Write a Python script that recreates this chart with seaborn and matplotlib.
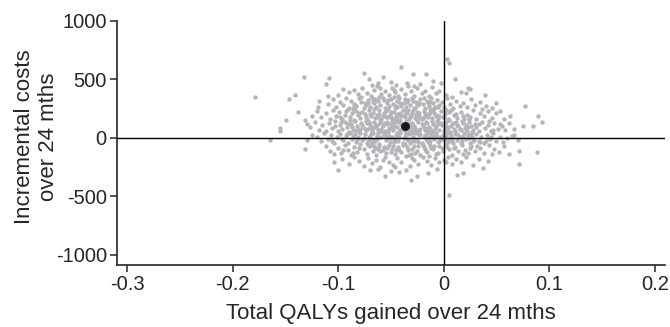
import pandas as pd
import seaborn as sns
import matplotlib.pyplot as plt

# Bootstrapped (QALY, cost) pairs, grouped by cost band
band_above_450 = [
    (-0.076, 557), (-0.071, 500), (-0.040, 609), (-0.029, 543), (-0.017, 543),
    (-0.010, 486), (-0.062, 470), (-0.050, 482), (-0.045, 455), (-0.035, 470),
    (-0.022, 462), (-0.058, 520), (0.011, 506), (-0.003, 470), (-0.068, 455),
    (0.003, 677), (0.005, 637), (-0.109, 514), (-0.112, 463), (-0.132, 520),
]
band_350_450 = [
    (-0.141, 363), (-0.147, 334), (-0.179, 351), (-0.110, 357),
    (-0.095, 420), (-0.090, 395), (-0.085, 410), (-0.081, 372), (-0.077, 430),
    (-0.073, 388), (-0.069, 360), (-0.066, 412), (-0.063, 445), (-0.059, 378),
    (-0.056, 402), (-0.052, 365), (-0.049, 430), (-0.046, 390), (-0.043, 356),
    (-0.040, 418), (-0.037, 375), (-0.034, 440), (-0.031, 398), (-0.028, 362),
    (-0.025, 425), (-0.021, 385), (-0.018, 405), (-0.014, 360), (-0.011, 432),
    (-0.007, 380), (-0.004, 400), (0.002, 368), (0.008, 352), (0.016, 395),
    (0.021, 380), (0.023, 429), (0.025, 414), (0.039, 366), (-0.100, 368),
    (-0.060, 428), (-0.047, 412), (-0.028, 447),
]
band_250_350 = [
    (-0.118, 314), (-0.119, 266), (-0.110, 290), (-0.105, 335), (-0.102, 262),
    (-0.098, 305), (-0.095, 280), (-0.093, 340), (-0.090, 258), (-0.088, 318),
    (-0.085, 292), (-0.083, 270), (-0.080, 338), (-0.078, 305), (-0.076, 255),
    (-0.074, 285), (-0.072, 322), (-0.070, 268), (-0.068, 345), (-0.066, 298),
    (-0.064, 262), (-0.062, 315), (-0.060, 282), (-0.058, 340), (-0.056, 255),
    (-0.054, 300), (-0.052, 275), (-0.050, 330), (-0.048, 290), (-0.046, 258),
    (-0.044, 318), (-0.042, 340), (-0.040, 272), (-0.038, 300), (-0.036, 262),
    (-0.034, 328), (-0.032, 285), (-0.030, 345), (-0.028, 260), (-0.026, 305),
    (-0.024, 278), (-0.022, 335), (-0.020, 292), (-0.018, 255), (-0.016, 318),
    (-0.014, 270), (-0.012, 340), (-0.010, 298), (-0.008, 262), (-0.006, 325),
    (-0.004, 282), (-0.002, 305), (0.000, 265), (0.003, 338), (0.006, 290),
    (0.009, 258), (0.012, 315), (0.015, 275), (0.018, 300), (0.022, 262),
    (0.026, 330), (0.030, 285), (0.034, 305), (0.040, 270), (0.046, 258),
    (0.050, 295), (-0.057, 322), (-0.045, 275), (-0.035, 310), (-0.025, 290),
    (-0.015, 300), (-0.005, 262), (-0.065, 330), (-0.075, 295), (-0.085, 262),
    (0.077, 277),
]
band_150_250 = [
    (-0.138, 220), (-0.149, 157), (-0.131, 157), (-0.125, 190), (-0.120, 230),
    (-0.116, 175), (-0.112, 210), (-0.108, 160), (-0.105, 240), (-0.102, 185),
    (-0.099, 220), (-0.096, 165), (-0.094, 200), (-0.091, 245), (-0.089, 178),
    (-0.087, 215), (-0.085, 155), (-0.083, 232), (-0.081, 192), (-0.079, 170),
    (-0.077, 225), (-0.075, 205), (-0.073, 160), (-0.071, 240), (-0.069, 185),
    (-0.067, 215), (-0.065, 168), (-0.063, 198), (-0.061, 235), (-0.059, 158),
    (-0.057, 212), (-0.055, 180), (-0.053, 245), (-0.051, 195), (-0.049, 165),
    (-0.047, 225), (-0.045, 185), (-0.043, 208), (-0.041, 155), (-0.039, 238),
    (-0.037, 178), (-0.035, 215), (-0.033, 162), (-0.031, 195), (-0.029, 242),
    (-0.027, 172), (-0.025, 220), (-0.023, 188), (-0.021, 160), (-0.019, 230),
    (-0.017, 200), (-0.015, 175), (-0.013, 245), (-0.011, 168), (-0.009, 212),
    (-0.007, 190), (-0.005, 158), (-0.003, 228), (-0.001, 182), (0.001, 205),
    (0.004, 165), (0.007, 238), (0.010, 192), (0.013, 172), (0.016, 222),
    (0.019, 158), (0.022, 200), (0.025, 180), (0.028, 240), (0.031, 165),
    (0.034, 210), (0.038, 188), (0.042, 228), (0.046, 170), (0.050, 214),
    (0.053, 229), (0.057, 160), (0.063, 186), (0.089, 186), (-0.098, 178),
    (-0.086, 248), (-0.074, 182), (-0.062, 175), (-0.050, 225), (-0.040, 190),
    (-0.030, 210), (-0.020, 168), (-0.010, 235), (0.000, 175), (0.012, 208),
    (0.024, 160), (0.036, 245), (-0.058, 188), (-0.046, 162), (-0.034, 240),
    (-0.018, 215), (-0.006, 200), (0.005, 222), (-0.070, 205), (-0.080, 210),
    (-0.044, 175), (-0.026, 195), (-0.014, 205), (0.018, 185),
]
band_50_150 = [
    (-0.155, 86), (-0.155, 57), (-0.130, 120), (-0.127, 95), (-0.122, 140),
    (-0.118, 70), (-0.115, 110), (-0.112, 55), (-0.109, 130), (-0.106, 85),
    (-0.103, 145), (-0.100, 62), (-0.098, 108), (-0.096, 78), (-0.094, 135),
    (-0.092, 95), (-0.090, 52), (-0.088, 122), (-0.086, 70), (-0.084, 142),
    (-0.082, 100), (-0.080, 60), (-0.078, 128), (-0.076, 88), (-0.074, 148),
    (-0.072, 75), (-0.070, 112), (-0.068, 55), (-0.066, 135), (-0.064, 92),
    (-0.062, 68), (-0.060, 125), (-0.058, 102), (-0.056, 58), (-0.054, 140),
    (-0.052, 82), (-0.050, 115), (-0.048, 65), (-0.046, 132), (-0.044, 95),
    (-0.042, 52), (-0.040, 120), (-0.038, 78), (-0.036, 145), (-0.034, 90),
    (-0.032, 62), (-0.030, 128), (-0.028, 105), (-0.026, 55), (-0.024, 138),
    (-0.022, 80), (-0.020, 112), (-0.018, 68), (-0.016, 130), (-0.014, 95),
    (-0.012, 58), (-0.010, 122), (-0.008, 85), (-0.006, 145), (-0.004, 72),
    (-0.002, 108), (0.000, 60), (0.002, 135), (0.004, 92), (0.006, 52),
    (0.008, 118), (0.010, 78), (0.012, 140), (0.014, 98), (0.016, 65),
    (0.018, 125), (0.020, 88), (0.022, 55), (0.024, 132), (0.026, 102),
    (0.028, 70), (0.030, 115), (0.033, 62), (0.036, 138), (0.039, 85),
    (0.042, 108), (0.045, 58), (0.048, 125), (0.051, 80), (0.055, 100),
    (0.058, 65), (0.062, 130), (0.067, 75), (0.075, 106), (0.085, 106),
    (0.093, 134), (-0.097, 140), (-0.087, 95), (-0.077, 110), (-0.067, 85),
    (-0.057, 128), (-0.047, 98), (-0.037, 60), (-0.027, 88), (-0.017, 140),
    (-0.007, 105), (0.003, 78), (0.013, 112), (0.023, 95), (0.033, 122),
    (-0.103, 102), (-0.083, 72), (-0.073, 130), (-0.063, 112), (-0.053, 60),
    (-0.043, 138), (-0.033, 115), (-0.023, 65), (-0.013, 78), (-0.003, 128),
    (0.007, 98), (0.017, 145), (0.027, 52), (0.043, 142), (-0.091, 118),
    (-0.079, 80), (-0.069, 95), (-0.059, 75), (-0.049, 140), (-0.039, 102),
    (-0.029, 72), (-0.019, 96), (-0.009, 62), (0.001, 112), (0.011, 58),
    (0.021, 108), (0.031, 90), (0.047, 70), (0.053, 118),
]
band_minus50_50 = [
    (-0.165, -14), (-0.130, -14), (-0.125, 29), (-0.120, 10), (-0.116, -30),
    (-0.113, 40), (-0.110, -8), (-0.107, 22), (-0.104, -40), (-0.101, 5),
    (-0.098, 35), (-0.095, -20), (-0.093, 15), (-0.091, -45), (-0.089, 42),
    (-0.087, -5), (-0.085, 25), (-0.083, -32), (-0.081, 8), (-0.079, 45),
    (-0.077, -18), (-0.075, 30), (-0.073, -42), (-0.071, 12), (-0.069, -8),
    (-0.067, 38), (-0.065, -28), (-0.063, 18), (-0.061, -48), (-0.059, 5),
    (-0.057, 32), (-0.055, -15), (-0.053, 48), (-0.051, -35), (-0.049, 10),
    (-0.047, -5), (-0.045, 28), (-0.043, -22), (-0.041, 42), (-0.039, -40),
    (-0.037, 15), (-0.035, -10), (-0.033, 35), (-0.031, -28), (-0.029, 5),
    (-0.027, 45), (-0.025, -18), (-0.023, 22), (-0.021, -45), (-0.019, 12),
    (-0.017, -5), (-0.015, 38), (-0.013, -30), (-0.011, 18), (-0.009, -12),
    (-0.007, 40), (-0.005, -38), (-0.003, 8), (-0.001, 28), (0.001, -20),
    (0.003, 45), (0.005, -8), (0.007, 20), (0.009, -42), (0.011, 32),
    (0.013, -15), (0.015, 10), (0.017, -30), (0.019, 40), (0.021, -5),
    (0.023, 25), (0.025, -40), (0.027, 12), (0.029, -18), (0.031, 35),
    (0.033, -28), (0.035, 5), (0.038, -45), (0.041, 22), (0.044, -12),
    (0.047, 38), (0.050, -25), (0.053, 10), (0.056, -35), (0.060, 0),
    (0.065, 20), (0.067, 29), (0.070, -20), (-0.096, -8), (-0.086, 10),
    (-0.076, 2), (-0.066, -20), (-0.056, 22), (-0.046, -30), (-0.036, 40),
    (-0.026, -8), (-0.016, -22), (-0.006, 15), (0.004, -32), (0.014, 28),
    (0.024, 2), (0.034, -38), (0.045, 5), (-0.092, 30), (-0.082, -15),
    (-0.072, -30), (-0.062, 40), (-0.052, 0), (-0.042, 12), (-0.032, -45),
    (-0.022, 30), (-0.012, 45), (-0.002, -5), (0.008, 2), (0.018, 15),
    (0.028, -30), (0.040, -22), (-0.106, -25), (-0.084, 36), (-0.068, -42),
    (-0.054, -2), (-0.044, 44), (-0.034, -18), (-0.024, -35), (-0.014, 5),
    (-0.004, -25), (0.006, 38), (0.016, -45), (0.026, 30),
]
band_minus150_minus50 = [
    (-0.131, -94), (-0.112, -70), (-0.108, -115), (-0.104, -140), (-0.100, -85),
    (-0.097, -125), (-0.094, -62), (-0.091, -105), (-0.088, -145), (-0.085, -78),
    (-0.082, -118), (-0.079, -55), (-0.076, -98), (-0.073, -135), (-0.070, -72),
    (-0.067, -112), (-0.064, -148), (-0.061, -65), (-0.058, -102), (-0.055, -130),
    (-0.052, -58), (-0.049, -92), (-0.046, -140), (-0.043, -75), (-0.040, -118),
    (-0.037, -52), (-0.034, -100), (-0.031, -135), (-0.028, -68), (-0.025, -108),
    (-0.022, -145), (-0.019, -80), (-0.016, -120), (-0.013, -60), (-0.010, -95),
    (-0.007, -138), (-0.004, -72), (-0.001, -110), (0.002, -55), (0.005, -98),
    (0.008, -142), (0.011, -75), (0.014, -115), (0.017, -62), (0.020, -102),
    (0.023, -130), (0.026, -70), (0.030, -108), (0.034, -85), (0.038, -125),
    (0.043, -60), (0.048, -95), (0.052, -120), (0.057, -70), (0.062, -134),
    (0.071, -114), (0.088, -123), (-0.095, -100), (-0.080, -88), (-0.065, -90),
    (-0.050, -120), (-0.035, -78), (-0.020, -58), (-0.005, -125), (0.010, -90),
    (0.025, -88), (-0.072, -60), (-0.057, -78), (-0.042, -100), (-0.027, -125),
    (-0.012, -85), (0.003, -78), (0.018, -140), (-0.086, -130), (-0.062, -95),
    (-0.048, -68), (-0.033, -145), (-0.018, -98), (-0.002, -88), (0.032, -65),
    (0.046, -135),
]
band_below_minus150 = [
    (-0.104, -209), (-0.100, -271), (-0.096, -180), (-0.090, -225), (-0.085, -160),
    (-0.080, -200), (-0.076, -240), (-0.072, -170), (-0.068, -215), (-0.064, -185),
    (-0.060, -245), (-0.056, -165), (-0.052, -205), (-0.048, -230), (-0.044, -175),
    (-0.040, -210), (-0.036, -155), (-0.032, -240), (-0.028, -190), (-0.024, -220),
    (-0.020, -165), (-0.016, -200), (-0.012, -235), (-0.008, -175), (-0.004, -210),
    (0.000, -185), (0.004, -160), (0.008, -225), (0.012, -178), (0.016, -205),
    (0.021, -165), (0.028, -229), (0.033, -180), (0.037, -257), (0.042, -195),
    (0.071, -223), (-0.058, -190), (-0.046, -250), (-0.030, -172), (-0.014, -158),
    (0.002, -205), (-0.056, -323), (-0.031, -357), (-0.025, -329), (-0.042, -290),
    (-0.015, -300), (-0.006, -265), (0.013, -314), (0.018, -300), (-0.070, -275),
    (-0.050, -285), (-0.036, -270), (0.005, -491), (-0.062, -262),
]
# Extra points in the dense core around the mean
band_core = [
    (-0.066, 245), (-0.061, 205), (-0.055, 228), (-0.050, 175), (-0.044, 262),
    (-0.041, 212), (-0.036, 232), (-0.032, 178), (-0.027, 255), (-0.023, 215),
    (-0.019, 182), (-0.013, 222), (-0.009, 252), (-0.004, 190), (0.002, 242),
    (-0.071, 140), (-0.065, 105), (-0.060, 150), (-0.054, 118), (-0.049, 82),
    (-0.045, 152), (-0.041, 66), (-0.035, 128), (-0.031, 96), (-0.025, 150),
    (-0.021, 122), (-0.015, 88), (-0.011, 148), (-0.005, 118), (0.001, 86),
    (0.005, 150), (0.009, 128), (0.015, 80), (-0.069, 30), (-0.063, -5),
    (-0.058, 48), (-0.052, 20), (-0.047, -38), (-0.043, 35), (-0.038, 2),
    (-0.034, 52), (-0.028, -22), (-0.024, 42), (-0.018, 25), (-0.014, -40),
    (-0.008, 22), (-0.003, -12), (0.002, 18), (0.008, -28), (0.012, 45),
    (-0.078, 350), (-0.072, 300), (-0.067, 310), (-0.061, 350), (-0.053, 320),
    (-0.047, 348), (-0.041, 300), (-0.037, 335), (-0.029, 318), (-0.023, 300),
    (-0.019, 345), (-0.013, 305), (-0.066, -70), (-0.060, -115), (-0.054, -88),
    (-0.045, -105), (-0.039, -62), (-0.030, -95), (-0.024, -72), (-0.017, -110),
    (-0.009, -68), (-0.053, 180), (-0.038, 200), (-0.024, 170), (-0.060, 60),
    (-0.030, 45), (-0.016, 60), (-0.074, 65), (-0.089, 150), (-0.093, 230),
    (-0.084, 280),
]

# Point estimate (mean difference)
mean_qaly = [-0.037]
mean_cost = [105]

x_ticks = [-0.3, -0.2, -0.1, 0, 0.1, 0.2]
x_tick_labels = ["-0.3", "-0.2", "-0.1", "0", "0.1", "0.2"]
y_ticks = [-1000, -500, 0, 500, 1000]

all_pairs = (band_above_450 + band_350_450 + band_250_350 + band_150_250
             + band_50_150 + band_minus50_50 + band_minus150_minus50
             + band_below_minus150 + band_core)
boot = pd.DataFrame(all_pairs, columns=["qaly", "cost"])
mean_df = pd.DataFrame({"qaly": mean_qaly, "cost": mean_cost})

sns.set_style("ticks")
plt.rcParams["font.family"] = ["Liberation Sans", "DejaVu Sans"]
plt.rcParams["axes.unicode_minus"] = False

fig = plt.figure(figsize=(6.7, 3.27), dpi=100)
ax = fig.add_axes([0.174, 0.190, 0.819, 0.746])

sns.scatterplot(data=boot, x="qaly", y="cost", color="#b3b5b9",
                s=10, linewidth=0, ax=ax, zorder=2)
sns.scatterplot(data=mean_df, x="qaly", y="cost", color="#1a1a1a",
                s=42, linewidth=0, ax=ax, zorder=4)

ax.axhline(0, color="black", lw=1, zorder=3)
ax.axvline(0, color="black", lw=1, zorder=3)

ax.set_xlim(-0.31, 0.21)
ax.set_ylim(-1085, 1000)
ax.set_xticks(x_ticks)
ax.set_xticklabels(x_tick_labels)
ax.set_yticks(y_ticks)

sns.despine(ax=ax)
for side in ["left", "bottom"]:
    ax.spines[side].set_linewidth(1.2)
ax.tick_params(labelsize=14.5, length=5, width=1.1, pad=2)

ax.set_xlabel("Total QALYs gained over 24 mths", fontsize=16, labelpad=7)
ax.set_ylabel("Incremental costs\nover 24 mths", fontsize=16,
              linespacing=1.2)
ax.yaxis.set_label_coords(-0.105, 0.525)

plt.savefig("out.png", dpi=100)
plt.close()
